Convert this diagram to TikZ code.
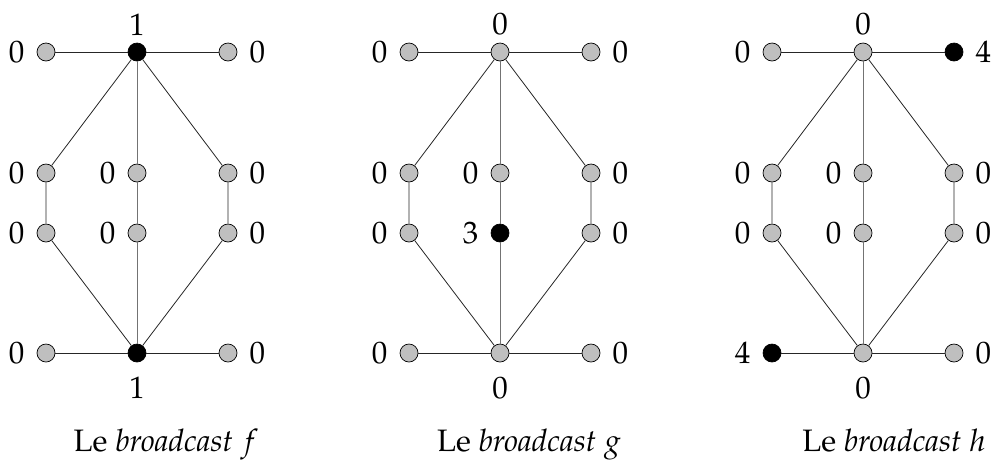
\documentclass[tikz,border=0pt]{standalone}
\usepackage[T1]{fontenc}
\usepackage{mathpazo}
\tikzset{
  vtx/.style={circle, draw=black, line width=0.7pt, fill=black!25, minimum size=18pt, inner sep=0pt},
  hot/.style={fill=black},
  edg/.style={draw=black!85, line width=0.8pt},
  cedg/.style={draw=black!55, line width=1pt},
  every label/.style={inner sep=0pt, font=\fontsize{31}{36}\selectfont},
  lw/.style={label={[label distance=12pt]left:#1}},
  le/.style={label={[label distance=12pt]right:#1}},
  ln/.style={label={[label distance=7pt]above:#1}},
  ls/.style={label={[label distance=14pt]below:#1}},
  captxt/.style={font=\fontsize{31}{36}\selectfont, anchor=base, inner sep=0pt}
}
\begin{document}
\begin{tikzpicture}[x=1pt,y=-1pt]
\useasboundingbox (0,0) rectangle (992,459);
% ---------- graph f ----------
\begin{scope}[xshift=137pt]
\node[vtx,lw=0] (fTL) at (-91,52) {};
\node[vtx,hot,ln=1] (fT) at (0,52) {};
\node[vtx,le=0] (fTR) at (91,52) {};
\node[vtx,lw=0] (fL1) at (-91,173) {};
\node[vtx,lw=0] (fC1) at (0,173) {};
\node[vtx,le=0] (fR1) at (91,173) {};
\node[vtx,lw=0] (fL2) at (-91,233) {};
\node[vtx,lw=0] (fC2) at (0,233) {};
\node[vtx,le=0] (fR2) at (91,233) {};
\node[vtx,lw=0] (fBL) at (-91,353) {};
\node[vtx,hot,ls=1] (fB) at (0,353) {};
\node[vtx,le=0] (fBR) at (91,353) {};
\node[captxt] (fcap) at (29,451) {Le \emph{broadcast} $f$};
\end{scope}
% ---------- graph g ----------
\begin{scope}[xshift=500pt]
\node[vtx,lw=0] (gTL) at (-91,52) {};
\node[vtx,ln=0] (gT) at (0,52) {};
\node[vtx,le=0] (gTR) at (91,52) {};
\node[vtx,lw=0] (gL1) at (-91,173) {};
\node[vtx,lw=0] (gC1) at (0,173) {};
\node[vtx,le=0] (gR1) at (91,173) {};
\node[vtx,lw=0] (gL2) at (-91,233) {};
\node[vtx,hot,lw=3] (gC2) at (0,233) {};
\node[vtx,le=0] (gR2) at (91,233) {};
\node[vtx,lw=0] (gBL) at (-91,353) {};
\node[vtx,ls=0] (gB) at (0,353) {};
\node[vtx,le=0] (gBR) at (91,353) {};
\node[captxt] (gcap) at (29,451) {Le \emph{broadcast} $g$};
\end{scope}
% ---------- graph h ----------
\begin{scope}[xshift=863pt]
\node[vtx,lw=0] (hTL) at (-91,52) {};
\node[vtx,ln=0] (hT) at (0,52) {};
\node[vtx,hot,le=4] (hTR) at (91,52) {};
\node[vtx,lw=0] (hL1) at (-91,173) {};
\node[vtx,lw=0] (hC1) at (0,173) {};
\node[vtx,le=0] (hR1) at (91,173) {};
\node[vtx,lw=0] (hL2) at (-91,233) {};
\node[vtx,lw=0] (hC2) at (0,233) {};
\node[vtx,le=0] (hR2) at (91,233) {};
\node[vtx,hot,lw=4] (hBL) at (-91,353) {};
\node[vtx,ls=0] (hB) at (0,353) {};
\node[vtx,le=0] (hBR) at (91,353) {};
\node[captxt] (hcap) at (31,451) {Le \emph{broadcast} $h$};
\end{scope}
% ---------- edges ----------
\foreach \p in {f,g,h}{
  \draw[edg] (\p TL) -- (\p T) -- (\p TR);
  \draw[edg] (\p BL) -- (\p B) -- (\p BR);
  \draw[edg] (\p T) -- (\p L1) -- (\p L2) -- (\p B);
  \draw[edg] (\p T) -- (\p R1) -- (\p R2) -- (\p B);
  \draw[cedg] (\p T) -- (\p C1) -- (\p C2) -- (\p B);
}
\end{tikzpicture}
\end{document}
